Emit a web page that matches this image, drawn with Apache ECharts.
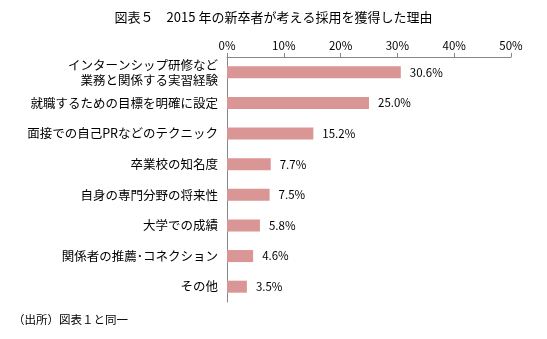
<!DOCTYPE html>
<html><head><meta charset="utf-8">
<script src="https://cdn.jsdelivr.net/npm/echarts@6/dist/echarts.min.js"></script>
<style>html,body{margin:0;padding:0;background:#fff}#c{width:547px;height:339px}</style>
</head><body><div id="c"></div>
<script>
const categories = ["インターンシップ研修など\n業務と関係する実習経験","就職するための目標を明確に設定","面接での自己PRなどのテクニック","卒業校の知名度","自身の専門分野の将来性","大学での成績","関係者の推薦･コネクション","その他"];
const values = [30.6, 25.0, 15.2, 7.7, 7.5, 5.8, 4.6, 3.5];
const xTicks = [0, 10, 20, 30, 40, 50];
const titleText = "図表５　2015 年の新卒者が考える採用を獲得した理由";
const sourceText = "（出所）図表１と同一";
const font = "'Noto Sans CJK JP', sans-serif";
const chart = echarts.init(document.getElementById('c'), null, {renderer:'canvas'});
chart.setOption({
  animation:false,
  backgroundColor:'#fff',
  title:{text:titleText,left:'center',top:6,textStyle:{fontFamily:font,fontSize:13,fontWeight:'normal',color:'#000'}},
  graphic:[{type:'text',left:13,top:314,style:{text:sourceText,font:"11.5px "+font,fill:'#000'}}],
  grid:{left:227,right:36,top:57,bottom:37},
  xAxis:{type:'value',position:'top',min:xTicks[0],max:xTicks[xTicks.length-1],interval:10,
    axisLine:{show:true,lineStyle:{color:'#868686'}},axisTick:{show:true,length:4,lineStyle:{color:'#868686'}},
    splitLine:{show:false},
    axisLabel:{formatter:v=>v+'%',fontFamily:font,fontSize:11.5,color:'#000',margin:6}},
  yAxis:{type:'category',inverse:true,data:categories,
    axisLine:{lineStyle:{color:'#868686'}},axisTick:{length:4,lineStyle:{color:'#868686'}},
    axisLabel:{fontFamily:font,fontSize:12.5,color:'#000',margin:9,lineHeight:15}},
  series:[{type:'bar',data:values,barWidth:12,itemStyle:{color:'#d99694'},
    label:{show:true,position:'right',distance:9,formatter:p=>p.value.toFixed(1)+'%',fontFamily:font,fontSize:11.5,color:'#000'}}]
});
</script></body></html>
